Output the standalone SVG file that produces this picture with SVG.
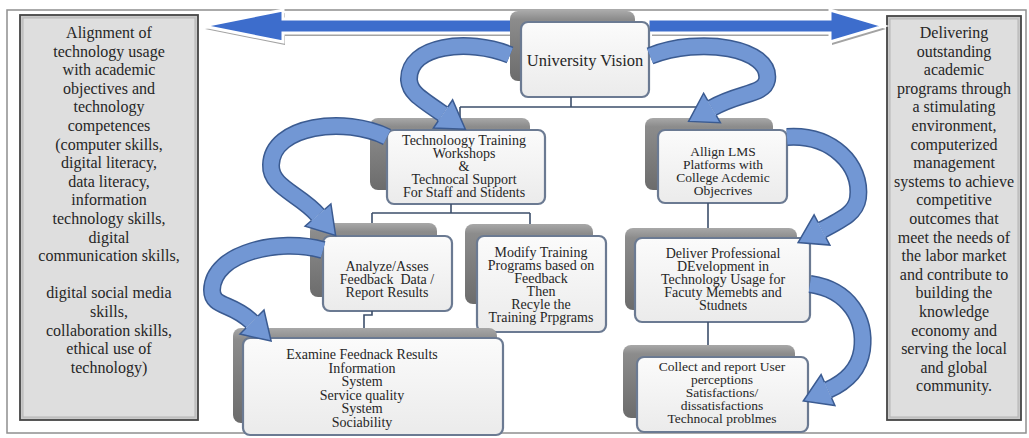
<svg xmlns="http://www.w3.org/2000/svg" width="1029" height="438" viewBox="0 0 1029 438" font-family="Liberation Serif, DejaVu Serif, Times New Roman, serif">
<style>
text{font-family:"Liberation Serif","DejaVu Serif","Times New Roman",serif;fill:#262626;text-anchor:middle}
.side{font-size:16px}
.n{font-size:14px}
.sh{fill:url(#gShadow)}
.fr{fill:url(#gFront);stroke:#6b7a92;stroke-width:2.2}
.ln{fill:none;stroke:#3d4f6b;stroke-width:1.6}
.bo{fill:none;stroke:#3b5b91;stroke-width:18}
.bi{fill:none;stroke:#7297d4;stroke-width:15}
.hf{fill:#7297d4}
.hs{fill:none;stroke:#3b5b91;stroke-width:1.5;stroke-linejoin:miter}
</style>
<defs>
<linearGradient id="gShadow" x1="0" y1="0" x2="0" y2="1">
<stop offset="0" stop-color="#a8a8a8"/><stop offset="0.12" stop-color="#8c8c8c"/><stop offset="1" stop-color="#6c6c6c"/>
</linearGradient>
<linearGradient id="gFront" x1="0" y1="0" x2="0" y2="1">
<stop offset="0" stop-color="#fbfbfb"/><stop offset="1" stop-color="#ebebeb"/>
</linearGradient>
</defs>
<rect x="0" y="0" width="1029" height="438" fill="#ffffff"/>
<rect x="7" y="10" width="1019" height="423" fill="none" stroke="#8f8f8f" stroke-width="1.5"/>

<g id="side-left">
<rect x="20" y="15" width="178" height="405" fill="#c9c9c9" stroke="#454545" stroke-width="1.8"/>
<rect x="23" y="18" width="172" height="399" fill="#dedede" stroke="#b5b5b5" stroke-width="1"/>
<text class="side"><tspan x="109" y="38">Alignment of</tspan><tspan x="109" dy="18.6">technology usage</tspan><tspan x="109" dy="18.6">with academic</tspan><tspan x="109" dy="18.6">objectives and</tspan><tspan x="109" dy="18.6">technology</tspan><tspan x="109" dy="18.6">competences</tspan><tspan x="109" dy="18.6">(computer skills,</tspan><tspan x="109" dy="18.6">digital literacy,</tspan><tspan x="109" dy="18.6">data literacy,</tspan><tspan x="109" dy="18.6">information</tspan><tspan x="109" dy="18.6">technology skills,</tspan><tspan x="109" dy="18.6">digital</tspan><tspan x="109" dy="18.6">communication skills,</tspan><tspan x="109" dy="37.2">digital social media</tspan><tspan x="109" dy="18.6">skills,</tspan><tspan x="109" dy="18.6">collaboration skills,</tspan><tspan x="109" dy="18.6">ethical use of</tspan><tspan x="109" dy="18.6">technology)</tspan></text>
</g>

<g id="side-right">
<rect x="887" y="16" width="134" height="404" fill="#c9c9c9" stroke="#454545" stroke-width="1.8"/>
<rect x="890" y="19" width="128" height="398" fill="#dedede" stroke="#b5b5b5" stroke-width="1"/>
<text class="side"><tspan x="954" y="38">Delivering</tspan><tspan x="954" dy="18.6">outstanding</tspan><tspan x="954" dy="18.6">academic</tspan><tspan x="954" dy="18.6">programs through</tspan><tspan x="954" dy="18.6">a stimulating</tspan><tspan x="954" dy="18.6">environment,</tspan><tspan x="954" dy="18.6">computerized</tspan><tspan x="954" dy="18.6">management</tspan><tspan x="954" dy="18.6">systems to achieve</tspan><tspan x="954" dy="18.6">competitive</tspan><tspan x="954" dy="18.6">outcomes that</tspan><tspan x="954" dy="18.6">meet the needs of</tspan><tspan x="954" dy="18.6">the labor market</tspan><tspan x="954" dy="18.6">and contribute to</tspan><tspan x="954" dy="18.6">building the</tspan><tspan x="954" dy="18.6">knowledge</tspan><tspan x="954" dy="18.6">economy and</tspan><tspan x="954" dy="18.6">serving the local</tspan><tspan x="954" dy="18.6">and global</tspan><tspan x="954" dy="18.6">community.</tspan></text>
</g>

<g id="top-arrows">
<polygon points="205,29 285,13 285,22 514,22 514,36 285,36 285,45" fill="#a3a3a3"/>
<polygon points="203,26 283,10 283,19 512,19 512,33 283,33 283,42" fill="#3d6dcc" stroke="#ffffff" stroke-width="3" stroke-linejoin="miter"/>
<polygon points="652,22 832,22 832,13 886,29 832,45 832,36 652,36" fill="#a3a3a3"/>
<polygon points="648,19 830,19 830,10 884,26 830,42 830,33 648,33" fill="#3d6dcc" stroke="#ffffff" stroke-width="3" stroke-linejoin="miter"/>
</g>

<g id="node-vision">
<rect class="sh" x="510" y="11" width="125" height="70" rx="8"/>
<rect class="fr" x="521" y="22" width="128" height="75" rx="7"/>
<text x="585" y="66" style="font-size:16.5px">University Vision</text>
</g>

<g id="node-tech">
<rect class="sh" x="370" y="118" width="160" height="72" rx="8"/>
<rect class="fr" x="387" y="130" width="158" height="74" rx="7"/>
<text class="n"><tspan x="464" y="145">Technoloogy Training</tspan><tspan x="464" dy="13">Workshops</tspan><tspan x="464" dy="13">&amp;</tspan><tspan x="464" dy="13">Technocal Support</tspan><tspan x="464" dy="13">For Staff and Stidents</tspan></text>
</g>

<g id="node-allign">
<rect class="sh" x="645" y="118" width="128" height="72" rx="8"/>
<rect class="fr" x="658" y="130" width="129" height="73" rx="7"/>
<text class="n" style="font-size:13.5px"><tspan x="723" y="156">Allign LMS</tspan><tspan x="723" dy="13">Platforms with</tspan><tspan x="723" dy="13">College Acdemic</tspan><tspan x="723" dy="13">Objecrives</tspan></text>
</g>

<g id="node-analyze">
<rect class="sh" x="310" y="223" width="127" height="74" rx="8"/>
<rect class="fr" x="323" y="236" width="129" height="75" rx="7"/>
<text class="n"><tspan x="387" y="271">Analyze/Asses</tspan><tspan x="387" dy="13">Feedback&#160; Data /</tspan><tspan x="387" dy="13">Report Results</tspan></text>
</g>

<g id="node-modify">
<rect class="sh" x="465" y="224" width="128" height="80" rx="8"/>
<rect class="fr" x="477" y="236" width="129" height="96" rx="7"/>
<text class="n"><tspan x="541" y="257">Modify Training</tspan><tspan x="541" dy="13">Programs based on</tspan><tspan x="541" dy="13">Feedback</tspan><tspan x="541" dy="13">Then</tspan><tspan x="541" dy="13">Recyle the</tspan><tspan x="541" dy="13">Training Prpgrams</tspan></text>
</g>

<g id="node-deliver">
<rect class="sh" x="625" y="228" width="172" height="82" rx="8"/>
<rect class="fr" x="635" y="238" width="175" height="84" rx="7"/>
<text class="n"><tspan x="723" y="258">Deliver Professional</tspan><tspan x="723" dy="13">DEvelopment in</tspan><tspan x="723" dy="13">Technology Usage for</tspan><tspan x="723" dy="13">Facuty Memebts and</tspan><tspan x="723" dy="13">Studnets</tspan></text>
</g>

<g id="node-examine">
<rect class="sh" x="233" y="328" width="264" height="95" rx="8"/>
<rect class="fr" x="243" y="338" width="260" height="97" rx="7"/>
<text class="n"><tspan x="362" y="359">Examine Feednack Results</tspan><tspan x="362" dy="13.5">Information</tspan><tspan x="362" dy="13.5">System</tspan><tspan x="362" dy="13.5">Service quality</tspan><tspan x="362" dy="13.5">System</tspan><tspan x="362" dy="13.5">Sociability</tspan></text>
</g>

<g id="node-collect">
<rect class="sh" x="623" y="345" width="172" height="73" rx="8"/>
<rect class="fr" x="637" y="357" width="171" height="75" rx="7"/>
<text class="n" style="font-size:13.5px"><tspan x="722" y="371">Collect and report User</tspan><tspan x="722" dy="13">perceptions</tspan><tspan x="722" dy="13">Satisfactions/</tspan><tspan x="722" dy="13">dissatisfactions</tspan><tspan x="722" dy="13">Technocal problmes</tspan></text>
</g>

<g id="connectors">
<path class="ln" d="M571,97 V107 M460,107 H708 M460,107 V118 M708,107 V118"/>
<path class="ln" d="M451,204 V213 M372,213 H530 M372,213 V223 M530,213 V224"/>
<path class="ln" d="M372,311 V315 H364 V328"/>
<path class="ln" d="M708,203 V228 M708,322 V345"/>

<path class="bo" d="M510,55 C468,38 408,45 409,80 C410,92 418,97 443,114"/>
<path class="bi" d="M510,55 C468,38 408,45 409,80 C410,92 418,97 443,114"/>
<polygon class="hf" points="433.4,128.1 465.3,129.2 452.6,99.9"/>
<path class="hs" d="M438.2,121 L433.4,128.1 L465.3,129.2 L452.6,99.9 L447.8,107"/>

<path class="bo" d="M650,56 C700,36 772,48 767,80 C764,95 740,92 712,108"/>
<path class="bi" d="M650,56 C700,36 772,48 767,80 C764,95 740,92 712,108"/>
<polygon class="hf" points="720.4,122.8 688.6,121.4 703.6,93.2"/>
<path class="hs" d="M716.2,115.4 L720.4,122.8 L688.6,121.4 L703.6,93.2 L707.8,100.6"/>

<path class="bo" d="M387,137 C345,116 272,125 271,165 C270,187 300,194 318,215"/>
<path class="bi" d="M387,137 C345,116 272,125 271,165 C270,187 300,194 318,215"/>
<polygon class="hf" points="305.1,226.1 335.6,235.5 330.9,203.9"/>
<path class="hs" d="M311.5,220.5 L305.1,226.1 L335.6,235.5 L330.9,203.9 L324.5,209.5"/>

<path class="bo" d="M323,250 C280,238 213,252 212,290 C212,308 232,302 252,322"/>
<path class="bi" d="M323,250 C280,238 213,252 212,290 C212,308 232,302 252,322"/>
<polygon class="hf" points="240,334 271.1,341.1 264,310"/>
<path class="hs" d="M246,328 L240,334 L271.1,341.1 L264,310 L258,316"/>

<path class="bo" d="M787,137 C832,134 862,165 858,198 C856,212 845,218 822,230"/>
<path class="bi" d="M787,137 C832,134 862,165 858,198 C856,212 845,218 822,230"/>
<polygon class="hf" points="829.9,245.1 798.1,242.5 814.1,214.9"/>
<path class="hs" d="M825.9,237.5 L829.9,245.1 L798.1,242.5 L814.1,214.9 L818.1,222.5"/>

<path class="bo" d="M810,284 C850,290 866,320 862,350 C859,370 846,382 828,390"/>
<path class="bi" d="M810,284 C850,290 866,320 862,350 C859,370 846,382 828,390"/>
<polygon class="hf" points="834.9,405.5 803.3,401 821.1,374.5"/>
<path class="hs" d="M831.5,397.8 L834.9,405.5 L803.3,401 L821.1,374.5 L824.5,382.2"/>
</g>
</svg>
